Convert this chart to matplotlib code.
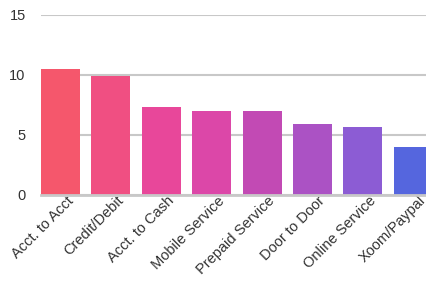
import matplotlib
matplotlib.use("Agg")
import matplotlib.pyplot as plt
import matplotlib.transforms as mtransforms

categories = ["Acct. to Acct", "Credit/Debit", "Acct. to Cash", "Mobile Service",
              "Prepaid Service", "Door to Door", "Online Service", "Xoom/Paypal"]
values = [10.5, 9.9, 7.3, 7.0, 7.0, 5.9, 5.7, 4.0]
colors = ["#f5576c", "#f04f82", "#e8479a", "#dc47a8", "#c24ab4", "#ab52c4",
          "#8c5cd4", "#5566de"]
yticks = [0, 5, 10, 15]

plt.rcParams["font.family"] = ["Liberation Sans", "DejaVu Sans"]

fig = plt.figure(figsize=(4.27, 2.83), dpi=100)
ax = fig.add_axes([41 / 427, 1 - 195 / 283, 386 / 427, 180 / 283])

x = range(len(categories))
ax.bar(x, values, width=0.774, color=colors, zorder=2)

ax.set_ylim(0, 15)
ax.set_xlim(-0.387, 7.27)
ax.set_yticks(yticks)
ax.yaxis.grid(True, color="#c8c8c8", linewidth=1.5, zorder=0)
ax.set_axisbelow(True)
for s in ["top", "right", "left"]:
    ax.spines[s].set_visible(False)
ax.spines["bottom"].set_color("#c8c8c8")
ax.spines["bottom"].set_linewidth(2)
ax.spines["bottom"].set_zorder(3)

ax.tick_params(axis="y", length=0, pad=11, labelsize=10.5, labelcolor="#333333")
ax.tick_params(axis="x", length=0, pad=-1, labelsize=10.5, labelcolor="#333333")
ax.set_xticks(list(x))
ax.set_xticklabels(categories, rotation=45, ha="right", rotation_mode="anchor")
offset = mtransforms.ScaledTranslation(5.5 / 100, 0, fig.dpi_scale_trans)
for lbl in ax.get_xticklabels():
    lbl.set_transform(lbl.get_transform() + offset)

fig.savefig("out.png", dpi=100)
